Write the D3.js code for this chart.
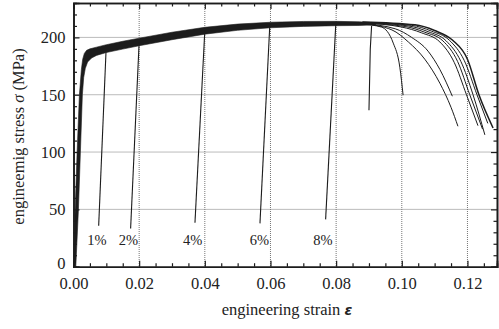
<!DOCTYPE html>
<html>
<head>
<meta charset="utf-8">
<script src="https://cdn.jsdelivr.net/npm/d3@7"></script>
<style>
  body { margin: 0; background: #fff; }
  text { font-family: "Liberation Serif", "Times New Roman", Times, serif; fill: #222; }
</style>
</head>
<body>
<script>
// tick values
var xMajor = [0, 0.02, 0.04, 0.06, 0.08, 0.10, 0.12];
var xMinor = [0.005, 0.01, 0.015, 0.025, 0.03, 0.035, 0.045, 0.05, 0.055, 0.065, 0.07, 0.075,
              0.085, 0.09, 0.095, 0.105, 0.11, 0.115, 0.125];
var yMajor = [0, 50, 100, 150, 200];
var yMinor = [10, 20, 30, 40, 60, 70, 80, 90, 110, 120, 130, 140, 160, 170, 180, 190, 210, 220];

// the thick bundle of loading curves: upper/left edge and lower/right edge [strain, stress]
var bandUpper = [[0.0001, 0], [0.0005, 50], [0.0011, 100], [0.0018, 150], [0.0024, 172], [0.0028, 181],
  [0.0033, 186], [0.0040, 188.7], [0.0050, 190], [0.007, 191.5], [0.010, 193.6], [0.015, 196.6],
  [0.020, 199.3], [0.030, 204.5], [0.040, 208.8], [0.050, 211.6], [0.060, 213.2], [0.070, 213.9],
  [0.080, 214], [0.087, 213.6], [0.092, 212.8]];
var bandLower = [[0.0007, 0], [0.0015, 50], [0.0021, 100], [0.0027, 150], [0.0031, 165], [0.0036, 173],
  [0.0043, 178.5], [0.0055, 182], [0.007, 184.3], [0.010, 186.8], [0.015, 189.8], [0.020, 192.7],
  [0.030, 198], [0.040, 202.8], [0.050, 206.2], [0.060, 208.4], [0.070, 209.6], [0.080, 210.2],
  [0.087, 210.4], [0.092, 211]];

// unloading lines
var unloads = [
  [[0.0099, 187.5], [0.00767, 35.7]],
  [[0.0200, 196], [0.0174, 33.4]],
  [[0.0400, 206], [0.0370, 38.3]],
  [[0.0598, 211], [0.0568, 37.8]],
  [[0.0799, 212], [0.0768, 41.3]],
  [[0.0908, 210], [0.0904, 190], [0.0900, 136.5]]
];

// fracture tails
var tails = [
  [[0.088, 211.5], [0.0938, 209], [0.0974, 195], [0.0994, 174], [0.1004, 149.6]],
  [[0.088, 212], [0.097, 206.5], [0.102, 196], [0.107, 181], [0.1116, 160], [0.1150, 139], [0.1171, 122.5]],
  [[0.088, 212], [0.098, 207.5], [0.103, 200], [0.108, 188], [0.1116, 172], [0.1154, 148.7]],
  [[0.088, 212.5], [0.100, 209], [0.106, 204], [0.1116, 196], [0.116, 178], [0.1197, 150], [0.1232, 123]],
  [[0.088, 212.5], [0.101, 209.5], [0.107, 204.5], [0.1125, 197], [0.117, 179], [0.1207, 150], [0.1246, 120]],
  [[0.088, 213], [0.102, 210], [0.108, 205], [0.1135, 197], [0.118, 179], [0.1217, 150], [0.1253, 115]],
  [[0.088, 213], [0.103, 210.5], [0.109, 205.5], [0.1145, 197.5], [0.119, 180], [0.1229, 150], [0.1262, 125]],
  [[0.088, 213.5], [0.104, 211], [0.110, 206], [0.1155, 197.5], [0.120, 181], [0.1235, 150], [0.1278, 121]]
];

// percent labels
var pctLabels = ["1%", "2%", "4%", "6%", "8%"];
var pctX = [0.00715, 0.01674, 0.0363, 0.0566, 0.0760];
var pctY = 18.5;

var svgWidth = 499, svgHeight = 329;
var margin = { top: 3, right: 2, bottom: 62.3, left: 73.5 };
var width = svgWidth - margin.left - margin.right;
var height = svgHeight - margin.top - margin.bottom;

var svg = d3.select("body").append("svg")
    .attr("width", svgWidth)
    .attr("height", svgHeight);

var chartGroup = svg.append("g")
    .attr("transform", `translate(${margin.left}, ${margin.top})`);

var x = d3.scaleLinear().domain([0, 0.129]).range([0, width]);
var y = d3.scaleLinear().domain([0, 230]).range([height, 0]);

// grid
chartGroup.append("g").selectAll("line")
    .data(xMajor.slice(1))
    .enter().append("line")
    .attr("x1", d => x(d)).attr("x2", d => x(d))
    .attr("y1", 0).attr("y2", height)
    .attr("stroke", "#777").attr("stroke-width", 1).attr("stroke-dasharray", "1,1");
chartGroup.append("g").selectAll("line")
    .data(yMajor.slice(1))
    .enter().append("line")
    .attr("x1", 0).attr("x2", width)
    .attr("y1", d => y(d)).attr("y2", d => y(d))
    .attr("stroke", "#777").attr("stroke-width", 1).attr("stroke-dasharray", "1,1");

// curves
var line = d3.line().x(d => x(d[0])).y(d => y(d[1])).curve(d3.curveMonotoneX);
var straight = d3.line().x(d => x(d[0])).y(d => y(d[1]));

var bandPath = bandUpper.concat(bandLower.slice().reverse());
chartGroup.append("path")
    .attr("d", straight(bandPath) + "Z")
    .attr("fill", "#1c1c1c").attr("stroke", "#1c1c1c").attr("stroke-width", 0.6)
    .attr("stroke-linejoin", "round");

chartGroup.selectAll(".unload")
    .data(unloads)
    .enter().append("path")
    .attr("class", "unload")
    .attr("d", d => straight(d))
    .attr("fill", "none").attr("stroke", "#1c1c1c").attr("stroke-width", 1.1);

chartGroup.selectAll(".tail")
    .data(tails)
    .enter().append("path")
    .attr("class", "tail")
    .attr("d", d => line(d))
    .attr("fill", "none").attr("stroke", "#1c1c1c")
    .attr("stroke-width", (d, i) => i === tails.length - 1 ? 1.5 : 1.0);

chartGroup.selectAll(".pct")
    .data(pctLabels)
    .enter().append("text")
    .attr("class", "pct")
    .attr("x", (d, i) => x(pctX[i]))
    .attr("y", y(pctY))
    .attr("text-anchor", "middle")
    .attr("font-size", "14.5px")
    .text(d => d);

// axes (ticks inside)
chartGroup.append("g")
    .attr("transform", `translate(0, ${height})`)
    .call(d3.axisBottom(x).tickValues(xMajor).tickSize(-6).tickPadding(10.4).tickFormat(d3.format(".2f")))
    .call(g => g.selectAll("text").attr("font-size", "16.5px"));
chartGroup.append("g")
    .attr("transform", `translate(0, ${height})`)
    .call(d3.axisBottom(x).tickValues(xMinor).tickSize(-3.5).tickFormat(""));
chartGroup.append("g")
    .call(d3.axisTop(x).tickValues(xMajor).tickSize(-6).tickFormat(""));
chartGroup.append("g")
    .call(d3.axisTop(x).tickValues(xMinor).tickSize(-3.5).tickFormat(""));

chartGroup.append("g")
    .call(d3.axisLeft(y).tickValues(yMajor).tickSize(-6).tickPadding(8))
    .call(g => g.selectAll("text").attr("font-size", "16.5px"))
    .call(g => g.selectAll(".tick text").filter(d => d === 0).attr("dy", "0.12em"));
chartGroup.append("g")
    .call(d3.axisLeft(y).tickValues(yMinor).tickSize(-3.5).tickFormat(""));
chartGroup.append("g")
    .attr("transform", `translate(${width}, 0)`)
    .call(d3.axisRight(y).tickValues(yMajor).tickSize(-6).tickFormat(""));
chartGroup.append("g")
    .attr("transform", `translate(${width}, 0)`)
    .call(d3.axisRight(y).tickValues(yMinor).tickSize(-3.5).tickFormat(""));

chartGroup.selectAll(".domain").attr("stroke", "#1c1c1c").attr("stroke-width", 1.6);
chartGroup.selectAll(".tick line").attr("stroke", "#1c1c1c").attr("stroke-width", 1.2);

// axis labels
var xl = svg.append("text")
    .attr("x", 287)
    .attr("y", 315)
    .attr("text-anchor", "middle")
    .attr("font-size", "16.5px");
xl.append("tspan").text("engineering strain ");
xl.append("tspan").attr("font-family", "DejaVu Sans").attr("font-style", "italic")
    .attr("font-weight", "bold").attr("font-size", "14px").text("ε");

var yl = svg.append("text")
    .attr("transform", "translate(24, 136.5) rotate(-90)")
    .attr("text-anchor", "middle")
    .attr("font-size", "16.5px");
yl.append("tspan").text("engineemig stress ");
yl.append("tspan").attr("font-style", "italic").text("σ");
yl.append("tspan").text(" (MPa)");
</script>
</body>
</html>
